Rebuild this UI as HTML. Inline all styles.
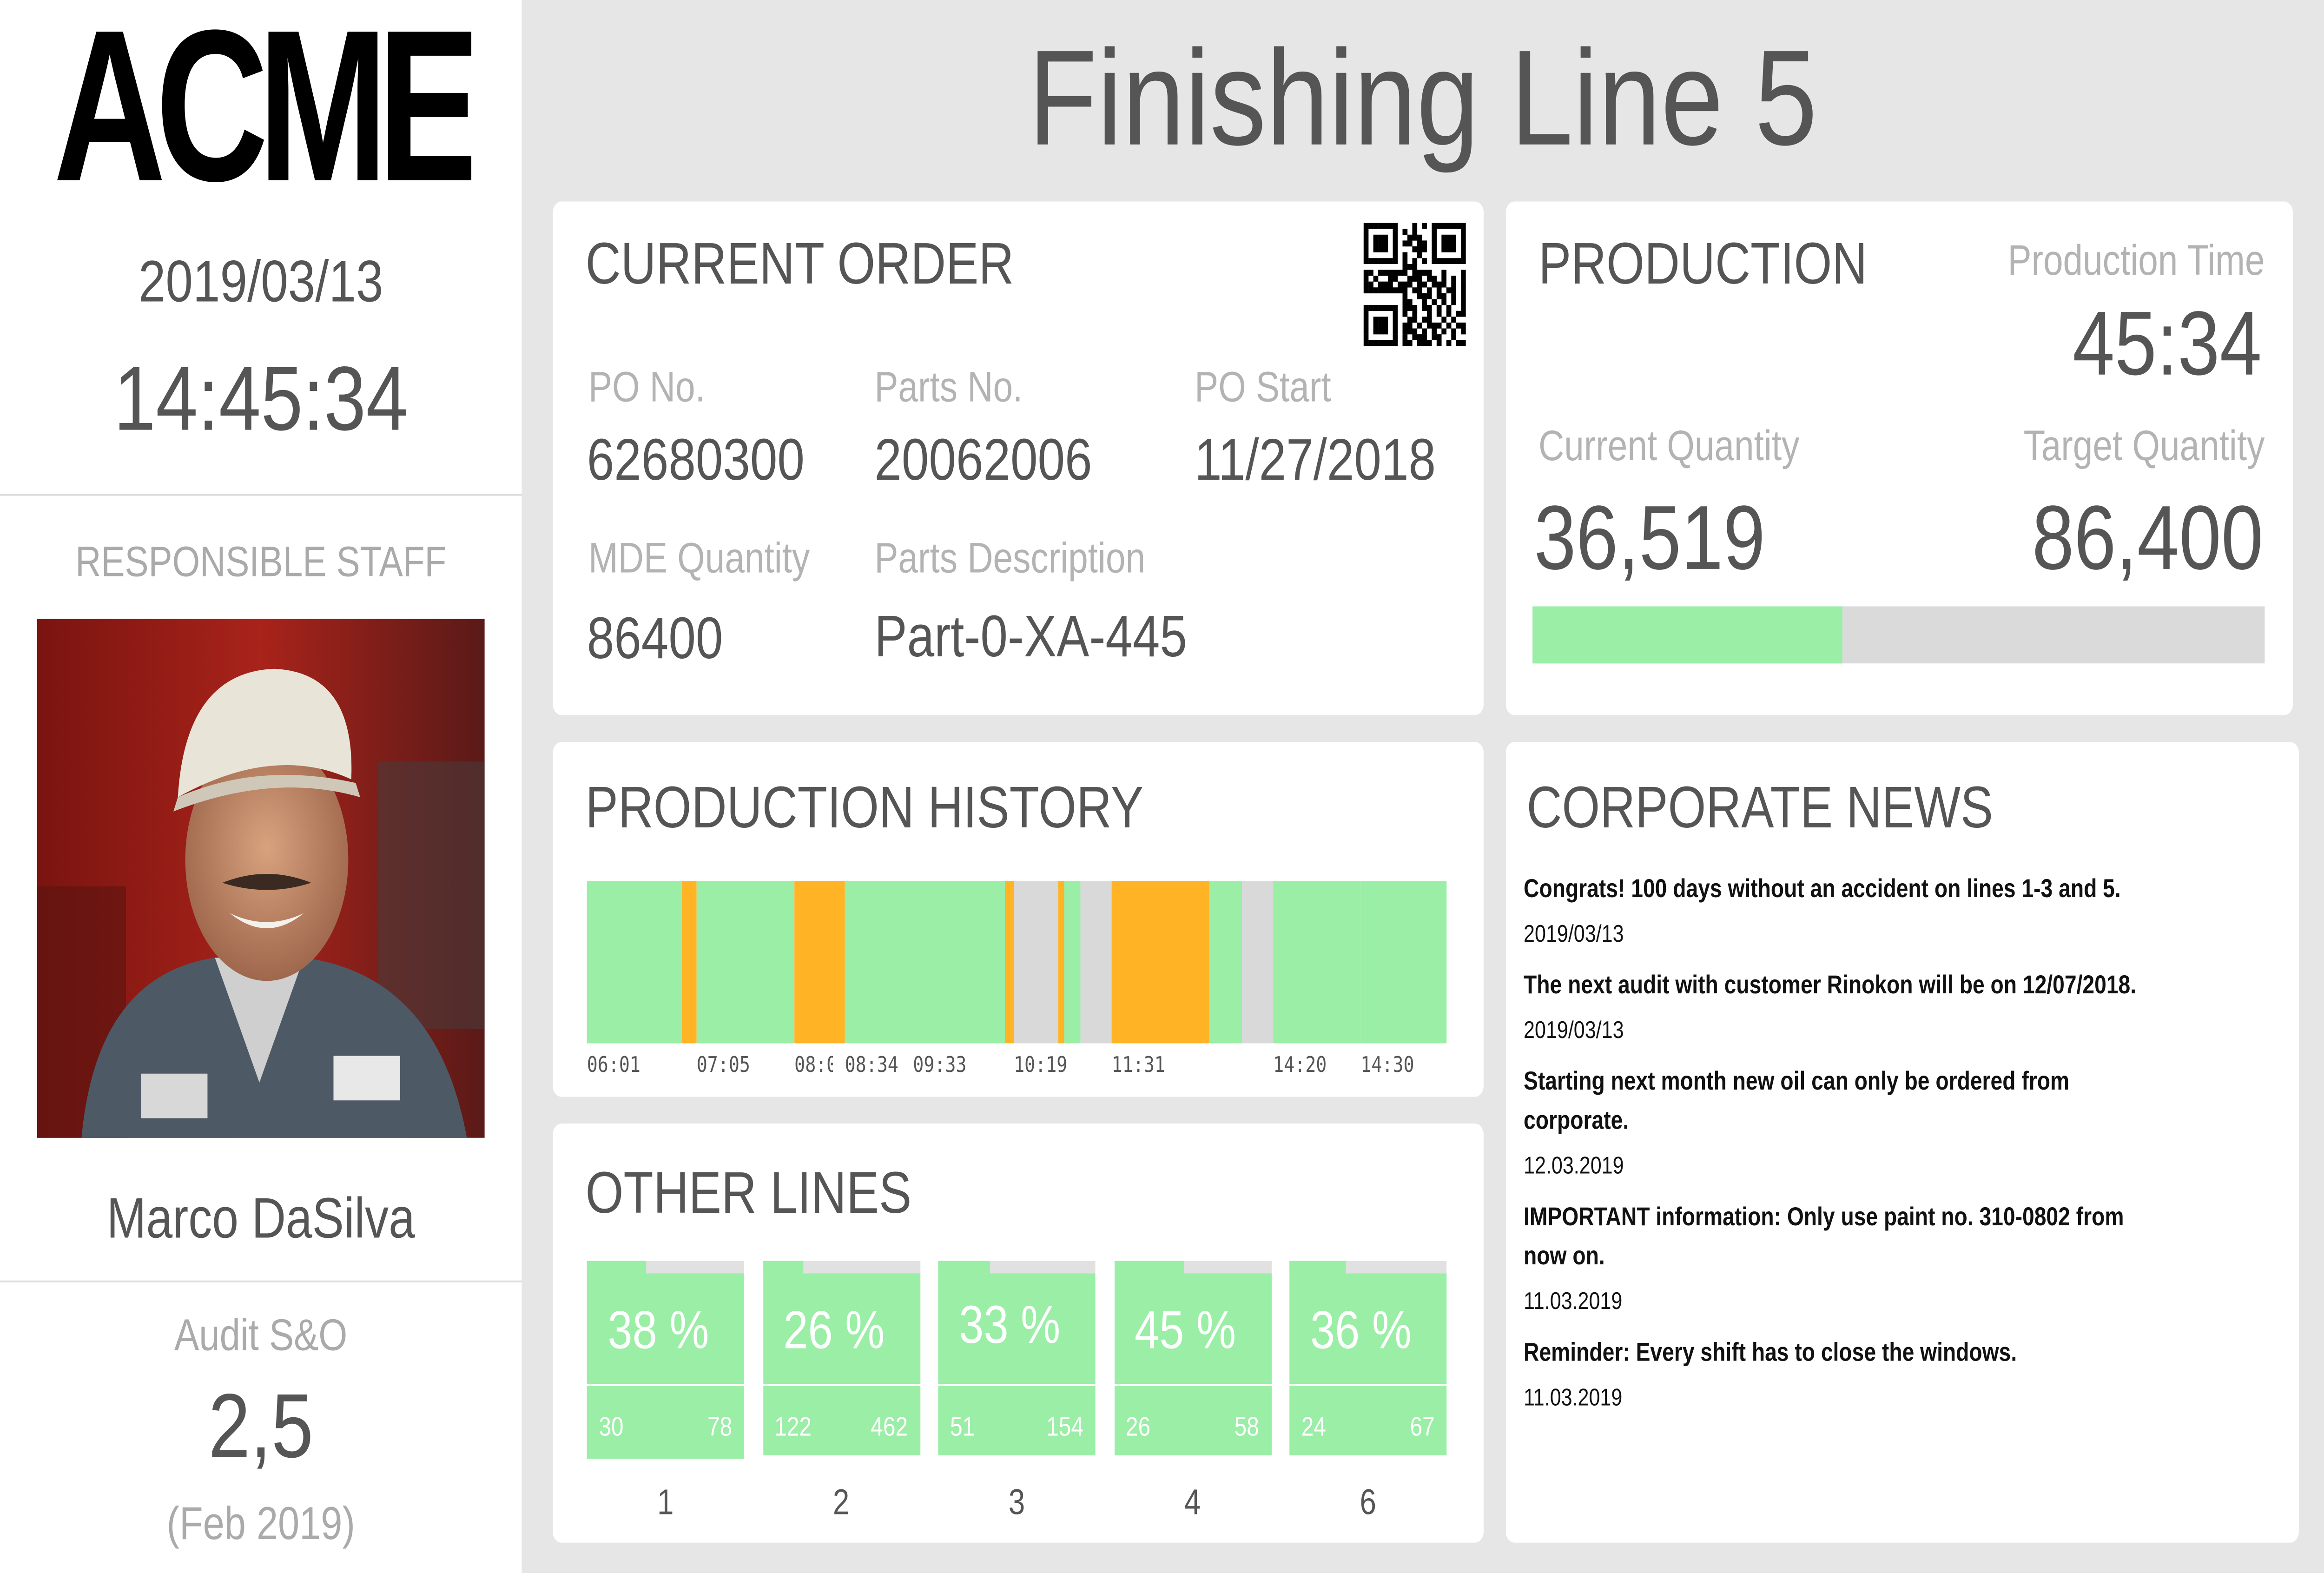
<!DOCTYPE html>
<html><head><meta charset="utf-8">
<style>
html,body{margin:0;padding:0;background:#e6e6e6;overflow:hidden;width:100vw;height:100vh}
#root{position:absolute;left:0;top:0;width:1568px;height:882px;transform-origin:0 0;background:#e6e6e6;font-family:"Liberation Sans",Arial,sans-serif;color:#555}
.a{position:absolute;line-height:1;white-space:nowrap}
.card{position:absolute;background:#fff;border-radius:6px}
.lbl{color:#b3b3b3}
.c{transform:translateX(-50%)}
.r{transform:translateX(-100%)}
</style></head><body>
<div id="root">
 <div style="position:absolute;left:0;top:0;width:352px;height:882px;background:#fff">
  <svg style="position:absolute;left:36px;top:10px" width="282" height="100" viewBox="0 0 282 100">
   <text x="0" y="91" font-family="Liberation Sans, Arial, sans-serif" font-weight="bold" font-size="121" textLength="282" lengthAdjust="spacingAndGlyphs" letter-spacing="-8" fill="#000">ACME</text>
  </svg>
  <div class="a c" style="left:176px;top:141px;font-size:33px">2019/03/13</div>
  <div class="a c" style="left:176px;top:198px;font-size:51px">14:45:34</div>
  <div style="position:absolute;left:0;top:277px;width:352px;height:1px;background:#ddd"></div>
  <div class="a c lbl" style="left:176px;top:304px;font-size:24px;color:#aaa">RESPONSIBLE STAFF</div>
  <svg style="position:absolute;left:25px;top:347px" width="302" height="291" viewBox="0 0 302 291">
   <defs><linearGradient id="bg" x1="0" x2="1"><stop offset="0" stop-color="#7a1410"/><stop offset="0.5" stop-color="#a8231a"/><stop offset="1" stop-color="#5a1a18"/></linearGradient>
   <radialGradient id="sk" cx="0.5" cy="0.45" r="0.6"><stop offset="0" stop-color="#d8a27e"/><stop offset="1" stop-color="#9a6248"/></radialGradient></defs>
   <rect width="302" height="291" fill="url(#bg)"/>
   <rect x="230" y="80" width="72" height="150" fill="#4a3a38" opacity="0.6"/>
   <rect x="0" y="150" width="60" height="141" fill="#5a1410" opacity="0.6"/>
   <path d="M30 291 Q40 200 120 190 L180 190 Q270 200 290 291 Z" fill="#4d5a66"/>
   <path d="M120 190 L150 260 L180 190 Z" fill="#cfcfcf"/>
   <rect x="200" y="245" width="45" height="25" fill="#e8e8e8"/>
   <rect x="70" y="255" width="45" height="25" fill="#d8d8d8"/>
   <ellipse cx="155" cy="135" rx="55" ry="68" fill="url(#sk)"/>
   <path d="M95 100 Q100 30 160 28 Q215 30 212 90 Q160 70 95 100 Z" fill="#e9e4d8"/>
   <path d="M95 100 Q150 80 215 92 L218 100 Q160 86 92 108 Z" fill="#cfc8b8"/>
   <path d="M125 148 Q155 138 185 148 Q155 156 125 148 Z" fill="#3a2a22"/>
   <path d="M130 165 Q155 175 180 165 Q155 182 130 165 Z" fill="#f4f0ea"/>
  </svg>
  <div class="a c" style="left:176px;top:667px;font-size:32px">Marco DaSilva</div>
  <div style="position:absolute;left:0;top:718px;width:352px;height:1px;background:#ddd"></div>
  <div class="a c" style="left:176px;top:737px;font-size:25px;color:#aaa">Audit S&amp;O</div>
  <div class="a c" style="left:176px;top:774px;font-size:51px">2,5</div>
  <div class="a c" style="left:176px;top:841px;font-size:26px;color:#aaa">(Feb 2019)</div>
 </div>

 <div class="a c" style="left:960px;top:18px;font-size:76px">Finishing Line 5</div>

 <div class="card" style="left:373px;top:113px;width:628px;height:288px">
  <div class="a" style="left:22px;top:18px;font-size:33px">CURRENT ORDER</div>
  <svg id="qr" style="position:absolute;left:547px;top:12px" width="69" height="69" viewBox="0 0 21 21"></svg>
  <div class="a lbl" style="left:24px;top:93px;font-size:24px">PO No.</div>
  <div class="a" style="left:23px;top:128px;font-size:33px">62680300</div>
  <div class="a lbl" style="left:217px;top:93px;font-size:24px">Parts No.</div>
  <div class="a" style="left:217px;top:128px;font-size:33px">20062006</div>
  <div class="a lbl" style="left:433px;top:93px;font-size:24px">PO Start</div>
  <div class="a" style="left:433px;top:128px;font-size:33px">11/27/2018</div>
  <div class="a lbl" style="left:24px;top:189px;font-size:24px">MDE Quantity</div>
  <div class="a" style="left:23px;top:228px;font-size:33px">86400</div>
  <div class="a lbl" style="left:217px;top:189px;font-size:24px">Parts Description</div>
  <div class="a" style="left:217px;top:227px;font-size:33px">Part-0-XA-445</div>
 </div>

 <div class="card" style="left:1016px;top:113px;width:531px;height:288px">
  <div class="a" style="left:22px;top:18px;font-size:33px">PRODUCTION</div>
  <div class="a r lbl" style="left:512px;top:22px;font-size:24px">Production Time</div>
  <div class="a r" style="left:510px;top:54px;font-size:51px">45:34</div>
  <div class="a lbl" style="left:22px;top:126px;font-size:24px">Current Quantity</div>
  <div class="a" style="left:19px;top:163px;font-size:51px">36,519</div>
  <div class="a r lbl" style="left:512px;top:126px;font-size:24px">Target Quantity</div>
  <div class="a r" style="left:511px;top:163px;font-size:51px">86,400</div>
  <div id="pbar" style="position:absolute;left:18px;top:227px;width:494px;height:32px;background:#dadada"></div>
 </div>

 <div class="card" style="left:373px;top:416px;width:628px;height:199px">
  <div class="a" style="left:22px;top:20px;font-size:33px">PRODUCTION HISTORY</div>
  <div id="hist" style="position:absolute;left:23px;top:78px;width:580px;height:120px"></div>
 </div>

 <div class="card" style="left:373px;top:630px;width:628px;height:235px">
  <div class="a" style="left:22px;top:22px;font-size:33px">OTHER LINES</div>
  <div id="lines" style="position:absolute;left:23px;top:77px;width:580px;height:150px"></div>
 </div>

 <div class="card" style="left:1016px;top:416px;width:535px;height:449px">
  <div class="a" style="left:14px;top:20px;font-size:33px">CORPORATE NEWS</div>
  <div style="position:absolute;left:12px;top:72px;font-size:14.5px;color:#111;white-space:nowrap">
   <div><div style="font-weight:bold;line-height:22px">Congrats! 100 days without an accident on lines 1-3 and 5.</div><div style="line-height:22px;margin:3px 0 7px;font-size:13.5px">2019/03/13</div></div>
   <div><div style="font-weight:bold;line-height:22px">The next audit with customer Rinokon will be on 12/07/2018.</div><div style="line-height:22px;margin:3px 0 7px;font-size:13.5px">2019/03/13</div></div>
   <div><div style="font-weight:bold;line-height:22px">Starting next month new oil can only be ordered from<br>corporate.</div><div style="line-height:22px;margin:3px 0 7px;font-size:13.5px">12.03.2019</div></div>
   <div><div style="font-weight:bold;line-height:22px">IMPORTANT information: Only use paint no. 310-0802 from<br>now on.</div><div style="line-height:22px;margin:3px 0 7px;font-size:13.5px">11.03.2019</div></div>
   <div><div style="font-weight:bold;line-height:22px">Reminder: Every shift has to close the windows.</div><div style="line-height:22px;margin:3px 0 7px;font-size:13.5px">11.03.2019</div></div>
  </div>
 </div>
</div>
<script>
// production quantity
const currentQty = 36519;
const targetQty = 86400;
// production history segments (relative durations) and states
const segDurations = [64,10,66,34,46,62,6,30,4,11,21,66,22,21,59,58];
const segStates = ['run','warn','run','warn','run','run','warn','stop','warn','run','stop','warn','run','stop','run','run'];
const histLabels = ['06:01','07:05','08:04','08:34','09:33','10:19','11:31','14:20','14:30'];
const histLabelSeg = [0,2,3,4,5,7,11,14,15];
// other lines
const lineNames = ['1','2','3','4','6'];
const linePct = [38,26,33,45,36];
const lineActual = [30,122,51,26,24];
const lineTarget = [78,462,154,58,67];
const qrRows = ["111111100010101111111","100000101010001000001","101110100111001011101","101110101101101011101","101110100011101011101","100000101001001000001","111111101010101111111","000000001110000000000","110111111011110010001","101001100111011010101","110111011101101110101","111111111011010101101","000000001001110110101","000000001100101010101","111111101110110101001","100000101010010101011","101110100110110010100","101110101101011101011","101110101110101010101","100000101011101100100","111111101101110101011"];

const colors = {run:'#9aeea6',warn:'#ffb325',stop:'#d9d9d9'};

function fit(){
  const root = document.getElementById('root');
  const w = window.innerWidth || document.documentElement.clientWidth;
  const h = window.innerHeight || document.documentElement.clientHeight;
  root.style.transform = 'scale(' + (w/1568) + ',' + (h/882) + ')';
}
fit();
window.addEventListener('resize', fit);

// progress bar
const pb = document.getElementById('pbar');
const pf = document.createElement('div');


pf.style.cssText = 'position:absolute;left:0;top:0;height:100%;background:#9aeea6;width:' + (currentQty/targetQty*100) + '%';
pb.appendChild(pf);

// QR
const qr = document.getElementById('qr');
qrRows.forEach((row, y) => { for (let x = 0; x < row.length; x++) if (row[x] === '1') {
  const r = document.createElementNS('http://www.w3.org/2000/svg','rect');
  r.setAttribute('x', x); r.setAttribute('y', y); r.setAttribute('width', 1.02); r.setAttribute('height', 1.02); r.setAttribute('fill', '#000');
  qr.appendChild(r);
}});

// history chart
const hist = document.getElementById('hist');
const histW = 580, histH = 91;
const total = segDurations.reduce((a,b)=>a+b,0);
const xScale = v => v / total * histW;
const starts = []; let acc = 0;
segDurations.forEach((d,i) => {
  starts.push(acc);
  const s = document.createElement('div');
  
  
  s.style.cssText = 'position:absolute;top:0;height:'+histH+'px;left:'+xScale(acc)+'px;width:'+(xScale(d)+0.3)+'px;background:'+colors[segStates[i]];
  hist.appendChild(s);
  acc += d;
});
histLabels.forEach((t,i) => {
  const si = histLabelSeg[i];
  let w = 0; const nextSeg = i+1 < histLabelSeg.length ? histLabelSeg[i+1] : segDurations.length;
  for (let k = si; k < nextSeg; k++) w += segDurations[k];
  const l = document.createElement('div');
  
  
  l.textContent = t;
  l.style.cssText = 'position:absolute;top:96px;left:'+xScale(starts[si])+'px;width:'+Math.max(0,xScale(w)-8)+'px;overflow:hidden;white-space:nowrap;font:12px "DejaVu Sans Mono","Liberation Mono",monospace;color:#555;line-height:14px';
  hist.appendChild(l);
});

// other lines
const lines = document.getElementById('lines');
const boxW = 106, gap = (580 - 5*boxW)/4;
lineNames.forEach((n,i) => {
  const x = i*(boxW+gap);
  const g = document.createElement('div');
  
  
  g.style.cssText = 'position:absolute;top:0;left:'+x+'px;width:'+boxW+'px;height:150px';
  const top = document.createElement('div');
  
  
  top.style.cssText = 'position:absolute;left:0;top:0;width:100%;height:7px;background:#e1e1e1';
  const fill = document.createElement('div');
  
  
  fill.style.cssText = 'position:absolute;left:0;top:0;height:100%;background:#9aeea6;width:'+linePct[i]+'%';
  top.appendChild(fill); g.appendChild(top);
  const main = document.createElement('div');
  
  
  main.style.cssText = 'position:absolute;left:0;top:7px;width:100%;height:62px;background:#9aeea6';
  g.appendChild(main);
  const pct = document.createElement('div');
  
  
  pct.textContent = linePct[i] + ' %';
  pct.style.cssText = 'position:absolute;left:14px;top:'+(i===2?22:25)+'px;font-size:30px;color:#fff;line-height:1;white-space:nowrap';
  g.appendChild(pct);
  const bot = document.createElement('div');
  
  
  bot.style.cssText = 'position:absolute;left:0;top:70px;width:100%;height:'+(i===0?41:39)+'px;background:#9aeea6';
  g.appendChild(bot);
  const a = document.createElement('div');
  
  
  a.textContent = lineActual[i];
  a.style.cssText = 'position:absolute;left:8px;top:86px;font-size:15px;color:#fff;line-height:1';
  g.appendChild(a);
  const b = document.createElement('div');
  
  
  b.textContent = lineTarget[i];
  b.style.cssText = 'position:absolute;right:8px;top:86px;font-size:15px;color:#fff;line-height:1';
  g.appendChild(b);
  const nm = document.createElement('div');
  
  
  nm.textContent = n;
  nm.style.cssText = 'position:absolute;left:0;width:100%;text-align:center;top:126px;font-size:20px;color:#555;line-height:1';
  g.appendChild(nm);
  lines.appendChild(g);
});
</script>
</body></html>
